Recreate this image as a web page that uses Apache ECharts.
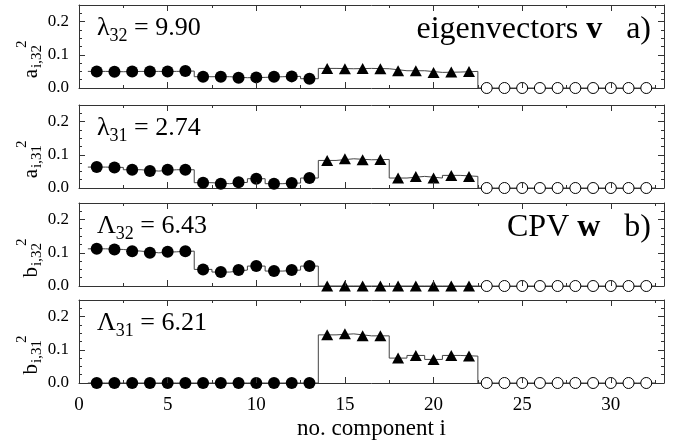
<!DOCTYPE html>
<html><head><meta charset="utf-8">
<script src="https://cdn.jsdelivr.net/npm/echarts@6/dist/echarts.min.js"></script>
<style>html,body{margin:0;padding:0;background:#fff}#c{width:683px;height:443px}</style>
</head><body><div id="c"></div>
<script>
// ---- data ----
const components = [1,2,3,4,5,6,7,8,9,10,11,12,13,14,15,16,17,18,19,20,21,22,23,24,25,26,27,28,29,30,31,32];
const filledRange = [1, 13];     // filled circles
const triangleRange = [14, 22];  // filled triangles
const openRange = [23, 32];      // open circles
const a32 = [0.050,0.049,0.050,0.050,0.050,0.051,0.034,0.034,0.031,0.032,0.034,0.035,0.028,
             0.059,0.058,0.059,0.058,0.052,0.052,0.047,0.048,0.050,
             0,0,0,0,0,0,0,0,0,0];
const a31 = [0.063,0.062,0.055,0.051,0.055,0.055,0.016,0.013,0.017,0.028,0.013,0.015,0.030,
             0.083,0.088,0.085,0.086,0.030,0.035,0.030,0.038,0.035,
             0,0,0,0,0,0,0,0,0,0];
const b32 = [0.112,0.110,0.105,0.100,0.103,0.105,0.050,0.042,0.048,0.060,0.045,0.048,0.060,
             0,0,0,0,0,0,0,0,0,
             0,0,0,0,0,0,0,0,0,0];
const b31 = [0,0,0,0,0,0,0,0,0,0,0,0,0,
             0.145,0.148,0.142,0.142,0.075,0.083,0.071,0.083,0.081,
             0,0,0,0,0,0,0,0,0,0];
const panelValues = [a32, a31, b32, b31];
const yNames = [['a','i,32'],['a','i,31'],['b','i,32'],['b','i,31']];
const eigenLabels = [['λ','32','9.90'],['λ','31','2.74'],['Λ','32','6.43'],['Λ','31','6.21']];
const panelTitles = ['eigenvectors {b|v}   a)', null, 'CPV {b|w}   b)', null];
const xTickMin = 0, xTickMax = 33, xMajor = 5, xMinor = 2.5;
const yMin = 0, yMax = 0.25, yMajor = 0.1, yMinor = 0.025;
const xTitle = 'no. component i';

// ---- layout ----
const FONT = '"Liberation Serif", "Times New Roman", serif';
const tops = [5, 105, 203, 300];
const H = 83, LEFT = 79, RIGHT = 19;
const frame = '#333';

const grids = [], xAxes = [], yAxes = [], series = [], graphics = [];
function inRange(c, r) { return c >= r[0] && c <= r[1]; }

tops.forEach((top, p) => {
  grids.push({left: LEFT, right: RIGHT, top: top, height: H, outerBoundsMode: 'none', containLabel: false});
  const last = p === 3;
  ['bottom','top'].forEach(pos => {
    xAxes.push({gridIndex: p, type: 'value', position: pos, min: xTickMin, max: xTickMax, interval: xMinor,
      axisLine: {show: true, onZero: false, lineStyle: {color: frame, width: 1}},
      axisTick: {show: true, inside: true, length: 3, lineStyle: {color: frame}},
      axisLabel: {show: false}, splitLine: {show: false}, z: 0});
    const isLab = last && pos === 'bottom';
    xAxes.push({gridIndex: p, type: 'value', position: pos, min: xTickMin, max: xTickMax, interval: xMajor,
      axisLine: {show: false, onZero: false},
      axisTick: {show: true, inside: true, length: 6, lineStyle: {color: frame}},
      axisLabel: {show: isLab, showMaxLabel: false, fontFamily: FONT, fontSize: 19, color: '#000', margin: 13},
      name: isLab ? xTitle : '', nameLocation: 'middle', nameGap: 34,
      nameTextStyle: {fontFamily: FONT, fontSize: 23, color: '#000'},
      splitLine: {show: false}, z: 5});
  });
  ['left','right'].forEach(pos => {
    yAxes.push({gridIndex: p, type: 'value', position: pos, min: yMin, max: yMax, interval: yMinor,
      axisLine: {show: true, onZero: false, lineStyle: {color: frame, width: 1}},
      axisTick: {show: true, inside: true, length: 3, lineStyle: {color: frame}},
      axisLabel: {show: false}, splitLine: {show: false}, z: 0});
    yAxes.push({gridIndex: p, type: 'value', position: pos, min: yMin, max: yMax, interval: yMajor,
      axisLine: {show: false, onZero: false},
      axisTick: {show: true, inside: true, length: 6, lineStyle: {color: frame}},
      axisLabel: {show: pos === 'left', showMaxLabel: false, fontFamily: FONT, fontSize: 17, color: '#000', margin: 10,
        formatter: v => v.toFixed(1)},
      splitLine: {show: false}, z: 5});
  });
  const xi = p * 4, yi = p * 4;
  const vals = panelValues[p];
  const step = [];
  components.forEach((c, k) => { step.push([c - 0.5, vals[k]], [c + 0.5, vals[k]]); });
  series.push({type: 'line', xAxisIndex: xi, yAxisIndex: yi, data: step, showSymbol: false, symbol: 'none',
    lineStyle: {color: '#444', width: 1}, z: 2, silent: true, animation: false});
  const pts = r => components.map((c, k) => [c, vals[k]]).filter(d => inRange(d[0], r));
  series.push({type: 'scatter', xAxisIndex: xi, yAxisIndex: yi, data: pts(filledRange), symbol: 'circle', symbolSize: 12,
    itemStyle: {color: '#000', opacity: 1}, z: 3, animation: false});
  series.push({type: 'scatter', xAxisIndex: xi, yAxisIndex: yi, data: pts(triangleRange), symbol: 'triangle', symbolSize: [12, 11],
    itemStyle: {color: '#000', opacity: 1}, z: 3, animation: false});
  series.push({type: 'scatter', xAxisIndex: xi, yAxisIndex: yi, data: pts(openRange), symbol: 'circle', symbolSize: 11,
    itemStyle: {color: '#fff', borderColor: '#000', borderWidth: 1, opacity: 1}, z: 3, animation: false});

  const el = eigenLabels[p];
  graphics.push({type: 'text', x: 97, y: top + 10, z: 10, style: {
    text: `{n|${el[0]}}{s|${el[1]}}{n| = ${el[2]}}`, fill: '#000', verticalAlign: 'top', textAlign: 'left',
    rich: {n: {fontFamily: FONT, fontSize: 26, lineHeight: 28, verticalAlign: 'top', fill: '#000'},
           s: {fontFamily: FONT, fontSize: 18, lineHeight: 43, verticalAlign: 'middle', fill: '#000'}}}});
  if (panelTitles[p]) {
    graphics.push({type: 'text', x: 651, y: top + 25, z: 10, style: {
      text: panelTitles[p], fill: '#000', textAlign: 'right', verticalAlign: 'middle',
      font: '32px ' + FONT,
      rich: {b: {fontFamily: FONT, fontSize: 32, fontWeight: 'bold', fill: '#000'}}}});
  }
  const yn = yNames[p];
  graphics.push({type: 'group', x: 31, y: top + 44, rotation: Math.PI / 2, z: 10, children: [
    {type: 'text', x: -20, y: 0, style: {text: yn[0], font: '21px ' + FONT, fill: '#000', textAlign: 'right', verticalAlign: 'middle'}},
    {type: 'text', x: -19, y: 6, style: {text: yn[1], font: '15px ' + FONT, fill: '#000', textAlign: 'left', verticalAlign: 'middle'}},
    {type: 'text', x: 1, y: -9, style: {text: '2', font: '15px ' + FONT, fill: '#000', textAlign: 'left', verticalAlign: 'middle'}}
  ]});
});

const chart = echarts.init(document.getElementById('c'), null, {renderer: 'canvas'});
chart.setOption({
  animation: false,
  backgroundColor: '#fff',
  grid: grids, xAxis: xAxes, yAxis: yAxes, series: series, graphic: graphics,
  tooltip: {show: false}
});
</script>
</body></html>
